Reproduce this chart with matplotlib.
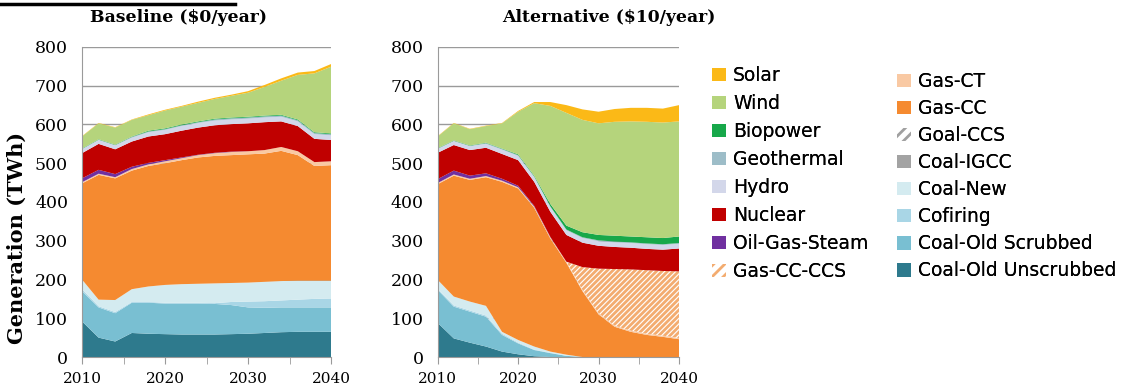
import matplotlib
matplotlib.use("Agg")
import matplotlib.pyplot as plt
from matplotlib.lines import Line2D
from matplotlib.patches import Patch

plt.rcParams["hatch.linewidth"] = 2.0

years = list(range(2010, 2041, 2))

# technology names, bottom of the stack first
techs = ["Coal-Old Unscrubbed", "Coal-Old Scrubbed", "Cofiring", "Coal-New",
         "Coal-IGCC", "Goal-CCS", "Gas-CC", "Gas-CT", "Gas-CC-CCS",
         "Oil-Gas-Steam", "Nuclear", "Hydro", "Geothermal", "Biopower",
         "Wind", "Solar"]

# ---- Baseline ($0/year), TWh ----
base_unscrubbed = [92, 50, 40, 62, 60, 59, 58, 58, 58, 59, 60, 62, 64, 65, 65, 65]
base_scrubbed = [78, 78, 73, 78, 80, 79, 80, 80, 79, 75, 68, 65, 64, 63, 63, 63]
base_cofiring = [5, 3, 3, 2, 2, 2, 2, 2, 2, 8, 15, 17, 18, 20, 22, 23]
base_coal_new = [25, 17, 31, 33, 40, 46, 48, 49, 51, 49, 49, 50, 50, 49, 47, 46]
base_coal_igcc = [0] * 16
base_coal_ccs = [0] * 16
base_gas_cc = [248, 322, 314, 306, 311, 314, 320, 326, 329, 330, 331, 331, 336, 324, 296, 298]
base_gas_ct = [3, 3, 3, 4, 4, 5, 5, 6, 7, 8, 8, 9, 10, 10, 10, 10]
base_gas_ccs = [0] * 16
base_ogs = [10, 10, 8, 6, 4, 3, 2, 1, 1, 1, 0, 0, 0, 0, 0, 0]
base_nuclear = [65, 67, 64, 65, 68, 67, 69, 70, 71, 71, 72, 72, 66, 65, 60, 55]
base_hydro = [10, 10, 10, 10, 11, 11, 12, 12, 12, 12, 12, 12, 12, 12, 12, 12]
base_geo = [1, 1, 1, 2, 2, 2, 2, 2, 3, 3, 3, 3, 3, 3, 3, 3]
base_bio = [1, 1, 1, 1, 2, 2, 2, 2, 2, 2, 2, 2, 2, 2, 2, 2]
base_wind = [31, 41, 44, 43, 40, 46, 46, 48, 51, 56, 62, 74, 88, 115, 152, 172]
base_solar = [1, 1, 1, 1, 2, 2, 2, 3, 3, 3, 4, 5, 6, 6, 6, 7]

# ---- Alternative ($10/year), TWh ----
alt_unscrubbed = [88, 48, 37, 27, 14, 7, 2, 0, 0, 0, 0, 0, 0, 0, 0, 0]
alt_scrubbed = [85, 82, 80, 77, 43, 28, 16, 10, 3, 0, 0, 0, 0, 0, 0, 0]
alt_cofiring = [3, 3, 3, 3, 3, 2, 1, 1, 0, 0, 0, 0, 0, 0, 0, 0]
alt_coal_new = [23, 23, 23, 25, 5, 7, 8, 3, 3, 0, 0, 0, 0, 0, 0, 0]
alt_coal_igcc = [0] * 16
alt_coal_ccs = [0] * 16
alt_gas_cc = [247, 312, 314, 332, 387, 391, 358, 292, 237, 170, 110, 78, 65, 57, 52, 46]
alt_gas_ct = [3] * 16
alt_gas_ccs = [0, 0, 0, 0, 0, 0, 0, 0, 0, 59, 115, 146, 158, 164, 167, 172]
alt_ogs = [10, 10, 8, 7, 5, 4, 2, 1, 0, 0, 0, 0, 0, 0, 0, 0]
alt_nuclear = [68, 66, 66, 66, 64, 66, 62, 65, 69, 63, 59, 57, 56, 55, 55, 59]
alt_hydro = [10, 10, 10, 10, 11, 11, 12, 12, 12, 12, 12, 12, 12, 12, 12, 12]
alt_geo = [1, 1, 1, 2, 2, 2, 2, 2, 2, 2, 2, 2, 2, 2, 2, 2]
alt_bio = [1, 1, 1, 1, 1, 2, 2, 6, 10, 13, 14, 15, 15, 16, 16, 17]
alt_wind = [30, 44, 42, 43, 65, 110, 187, 253, 291, 290, 288, 294, 297, 298, 298, 297]
alt_solar = [1, 1, 1, 1, 1, 2, 3, 10, 20, 27, 30, 33, 35, 36, 36, 42]

colors = ["#2e7a8d", "#79bfd2", "#a9d6e6", "#d4ebf0",
          "#a3a3a3", "#ffffff", "#f58a30", "#f9c9a3", "#ffffff",
          "#7030a0", "#c00000", "#d3d7ea", "#9dbdc8", "#17a84a",
          "#b5d47c", "#fbb917"]
hatched = {"Goal-CCS": "#a0a0a0", "Gas-CC-CCS": "#f3ac70"}

base = [base_unscrubbed, base_scrubbed, base_cofiring, base_coal_new,
        base_coal_igcc, base_coal_ccs, base_gas_cc, base_gas_ct, base_gas_ccs,
        base_ogs, base_nuclear, base_hydro, base_geo, base_bio, base_wind, base_solar]
alt = [alt_unscrubbed, alt_scrubbed, alt_cofiring, alt_coal_new,
       alt_coal_igcc, alt_coal_ccs, alt_gas_cc, alt_gas_ct, alt_gas_ccs,
       alt_ogs, alt_nuclear, alt_hydro, alt_geo, alt_bio, alt_wind, alt_solar]

W, H = 1128, 388
fig = plt.figure(figsize=(W / 100, H / 100), dpi=100)
GRID = "#9a9a9a"
SERIF = "DejaVu Serif"


def panel(rect, series):
    ax = fig.add_axes(rect)
    polys = ax.stackplot(years, *series, colors=colors, linewidth=0)
    for poly, name in zip(polys, techs):
        if name in hatched:
            poly.set_edgecolor(hatched[name])
            poly.set_hatch("//////")
            poly.set_linewidth(0)
    ax.set_xlim(2010, 2040)
    ax.set_ylim(0, 800)
    ax.set_yticks(range(0, 801, 100))
    ax.set_xticks([2010, 2020, 2030, 2040])
    ax.set_xticks([2015, 2025, 2035], minor=True)
    ax.yaxis.grid(True, color=GRID, lw=1.0)
    ax.set_axisbelow(True)
    for s in ("top", "right"):
        ax.spines[s].set_visible(False)
    for s in ("left", "bottom"):
        ax.spines[s].set_color(GRID)
    ax.tick_params(axis="y", length=0, pad=10, labelsize=12.5)
    ax.tick_params(axis="x", which="both", length=5, color=GRID, pad=6, labelsize=11)
    for lab in ax.get_xticklabels() + ax.get_yticklabels():
        lab.set_family(SERIF)
    return ax


ax1 = panel([82 / W, 1 - 357 / H, 249 / W, 310 / H], base)
ax2 = panel([437.7 / W, 1 - 357 / H, 241.3 / W, 310 / H], alt)

fig.text(17 / W, 1 - 238 / H, "Generation (TWh)", family=SERIF, fontweight="bold",
         fontsize=15, rotation=90, ha="center", va="center")
fig.text(179 / W, 1 - 17 / H, "Baseline ($0/year)", family=SERIF, fontweight="bold",
         fontsize=12.4, ha="center", va="center")
fig.text(609 / W, 1 - 17 / H, "Alternative ($10/year)", family=SERIF, fontweight="bold",
         fontsize=12.4, ha="center", va="center")

# underline of the heading above the panels
fig.add_artist(Line2D([0, 235 / W], [1 - 4 / H, 1 - 4 / H], color="black", lw=2.5))


def handle(name):
    if name in hatched:
        return Patch(facecolor="white", edgecolor=hatched[name], hatch="///", lw=0)
    return Patch(facecolor=colors[techs.index(name)], edgecolor="none")


col1 = ["Solar", "Wind", "Biopower", "Geothermal", "Hydro", "Nuclear", "Oil-Gas-Steam", "Gas-CC-CCS"]
col2 = ["Gas-CT", "Gas-CC", "Goal-CCS", "Coal-IGCC", "Coal-New", "Cofiring",
        "Coal-Old Scrubbed", "Coal-Old Unscrubbed"]
for names, x0, y0, sp in ((col1, 712, 66, 0.48), (col2, 897, 72, 0.43)):
    leg = fig.legend([handle(n) for n in names], names, loc="upper left",
                     bbox_to_anchor=(x0 / W, 1 - y0 / H), frameon=False,
                     prop={"family": "DejaVu Sans", "size": 13.5}, handlelength=0.72,
                     handleheight=0.72, handletextpad=0.4, labelspacing=sp,
                     borderaxespad=0, borderpad=0)
    fig.add_artist(leg)

fig.savefig("out.png", dpi=100)
